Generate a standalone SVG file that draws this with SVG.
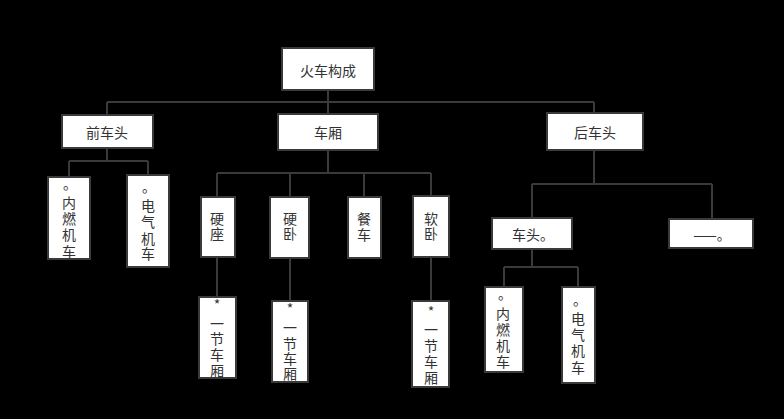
<svg xmlns="http://www.w3.org/2000/svg" width="784" height="419" viewBox="0 0 784 419">
<style>
.bg{fill:#000}
.box{fill:#fff;stroke:#3a3a3a;stroke-width:2}
.ln{fill:none;stroke:#3a3a3a;stroke-width:2}
text{font-family:"Noto Sans CJK SC","Noto Sans",sans-serif;font-size:14px;fill:#333;text-anchor:middle;dominant-baseline:central}
</style>
<rect class="bg" x="0" y="0" width="784" height="419"/>
<g id="connectors">
<path class="ln" d="M328 90V102M107 102H594M107 102V115M328 102V114M594 102V113"/>
<path class="ln" d="M107 148V161M69 161H148M69 161V177M148 161V175"/>
<path class="ln" d="M328 150V173M217 173H431M217 173V197M290 173V197M364 173V197M431 173V196"/>
<path class="ln" d="M217 257V297M290 258V301M431 257V301"/>
<path class="ln" d="M594 150V184M532 184H712M532 184V218M712 184V219"/>
<path class="ln" d="M532 249V267M504 267H578M504 267V287M578 267V287"/>
</g>
<g id="root"><rect class="box" x="282" y="48" width="92" height="42"/><text x="328" y="70">火车构成</text></g>
<g id="front"><rect class="box" x="62" y="115" width="91" height="33"/><text x="107" y="132">前车头</text></g>
<g id="carriage"><rect class="box" x="278" y="114" width="100" height="36"/><text x="328" y="132">车厢</text></g>
<g id="rear"><rect class="box" x="547" y="113" width="96" height="37"/><text x="595" y="132">后车头</text></g>
<g id="f-diesel"><rect class="box" x="48" y="177" width="42" height="82"/><text><tspan x="70" y="183">。</tspan><tspan x="69" y="202">内</tspan><tspan x="69" y="218">燃</tspan><tspan x="69" y="234">机</tspan><tspan x="69" y="251">车</tspan></text></g>
<g id="f-electric"><rect class="box" x="127" y="175" width="42" height="92"/><text><tspan x="149" y="186">。</tspan><tspan x="148" y="205">电</tspan><tspan x="148" y="221">气</tspan><tspan x="148" y="238">机</tspan><tspan x="148" y="253">车</tspan></text></g>
<g id="hard-seat"><rect class="box" x="201" y="197" width="34" height="60"/><text><tspan x="217" y="218">硬</tspan><tspan x="217" y="233">座</tspan></text></g>
<g id="hard-sleeper"><rect class="box" x="270" y="197" width="39" height="61"/><text><tspan x="290" y="218">硬</tspan><tspan x="290" y="233">卧</tspan></text></g>
<g id="dining"><rect class="box" x="348" y="197" width="33" height="61"/><text><tspan x="364" y="218">餐</tspan><tspan x="364" y="234">车</tspan></text></g>
<g id="soft-sleeper"><rect class="box" x="413" y="196" width="36" height="61"/><text><tspan x="431" y="218">软</tspan><tspan x="431" y="233">卧</tspan></text></g>
<g id="hs-car"><rect class="box" x="199" y="297" width="37" height="81"/><text><tspan x="217" y="304">*</tspan><tspan x="217" y="323">一</tspan><tspan x="217" y="338">节</tspan><tspan x="217" y="354">车</tspan><tspan x="217" y="370">厢</tspan></text></g>
<g id="hsl-car"><rect class="box" x="272" y="301" width="36" height="81"/><text><tspan x="290" y="308">*</tspan><tspan x="290" y="327">一</tspan><tspan x="290" y="343">节</tspan><tspan x="290" y="358">车</tspan><tspan x="290" y="373">厢</tspan></text></g>
<g id="ss-car"><rect class="box" x="412" y="301" width="37" height="86"/><text><tspan x="431" y="311">*</tspan><tspan x="431" y="329">一</tspan><tspan x="431" y="345">节</tspan><tspan x="431" y="361">车</tspan><tspan x="431" y="377">厢</tspan></text></g>
<g id="head"><rect class="box" x="492" y="218" width="80" height="31"/><text x="533" y="234">车头。</text></g>
<g id="dash"><rect class="box" x="669" y="219" width="84" height="29"/><text x="712" y="234">——。</text></g>
<g id="r-diesel"><rect class="box" x="485" y="287" width="38" height="85"/><text><tspan x="505" y="293">。</tspan><tspan x="503" y="313">内</tspan><tspan x="503" y="329">燃</tspan><tspan x="503" y="345">机</tspan><tspan x="503" y="361">车</tspan></text></g>
<g id="r-electric"><rect class="box" x="562" y="287" width="33" height="96"/><text><tspan x="580" y="299">。</tspan><tspan x="578" y="318">电</tspan><tspan x="578" y="334">气</tspan><tspan x="578" y="350">机</tspan><tspan x="578" y="367">车</tspan></text></g>
</svg>
